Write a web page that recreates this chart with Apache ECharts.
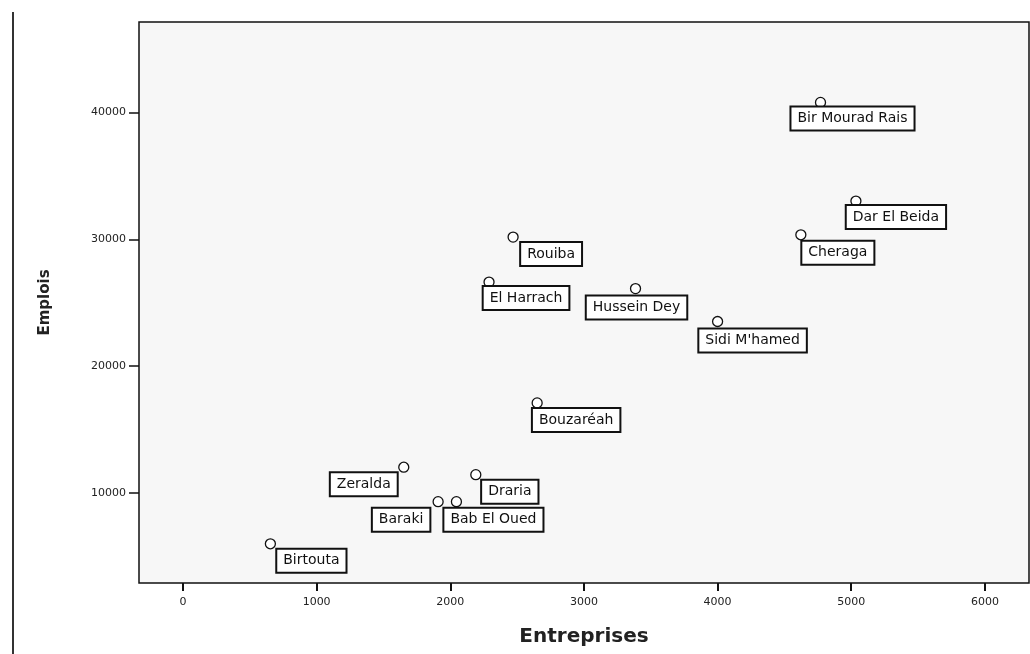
<!DOCTYPE html>
<html>
<head>
<meta charset="utf-8">
<script src="https://cdn.jsdelivr.net/npm/echarts@6/dist/echarts.min.js"></script>
<style>
  html, body { margin: 0; padding: 0; background: #fff; }
  #chart { width: 1030px; height: 654px; }
</style>
</head>
<body>
<div id="chart"></div>
<script>
// communes d'Alger : nombre d'entreprises et d'emplois
var communes = ['Bir Mourad Rais', 'Dar El Beida', 'Cheraga', 'Rouiba', 'El Harrach',
  'Hussein Dey', "Sidi M'hamed", 'Bouzaréah', 'Zeralda', 'Draria', 'Baraki',
  'Bab El Oued', 'Birtouta'];
var entreprises = [4770, 5035, 4623, 2470, 2290, 3386, 4000, 2650, 1652, 2191, 1909, 2046, 654];
var emplois = [40800, 33020, 30360, 30180, 26630, 26120, 23520, 17100, 12030, 11440, 9310, 9310, 5990];

var xTicks = [0, 1000, 2000, 3000, 4000, 5000, 6000];
var yTicks = [10000, 20000, 30000, 40000];

// decalage des etiquettes (centre de la boite par rapport au point)
var labelOffsets = [[32, 16], [40, 16], [37, 18], [38, 17], [37, 16], [1, 19], [35, 19],
  [39, 17], [-40, 17], [34, 17], [-37, 18], [37, 18], [41, 17]];

var points = [];
for (var i = 0; i < communes.length; i++) {
  points.push({
    name: communes[i],
    value: [entreprises[i], emplois[i]],
    label: { offset: labelOffsets[i] }
  });
}

var myChart = echarts.init(document.getElementById('chart'));
var option = {
  animation: false,
  backgroundColor: '#fff',
  grid: {
    left: 139, top: 22, right: 1, bottom: 71,
    show: true,
    backgroundColor: '#f7f7f7',
    borderColor: '#111',
    borderWidth: 1.5
  },
  xAxis: {
    type: 'value',
    min: -329,
    max: 6330,
    name: 'Entreprises',
    nameLocation: 'middle',
    nameGap: 44,
    nameTextStyle: { fontFamily: 'DejaVu Sans', fontWeight: 'bold', fontSize: 20, color: '#222' },
    axisLine: { show: false, onZero: false },
    axisTick: { show: true, length: 8, customValues: xTicks, lineStyle: { color: '#111', width: 2 } },
    axisLabel: {
      customValues: xTicks, formatter: function (v) { return String(v); },
      fontFamily: 'DejaVu Sans', fontSize: 11, color: '#222', margin: 14
    },
    splitLine: { show: false }
  },
  yAxis: {
    type: 'value',
    min: 2897,
    max: 47143,
    name: 'Emplois',
    nameLocation: 'middle',
    nameGap: 86,
    nameTextStyle: { fontFamily: 'DejaVu Sans', fontWeight: 'bold', fontSize: 15, color: '#222' },
    axisLine: { show: false, onZero: false },
    axisTick: { show: true, length: 10, customValues: yTicks, lineStyle: { color: '#111', width: 1.5 } },
    axisLabel: {
      customValues: yTicks, formatter: function (v) { return String(v); },
      fontFamily: 'DejaVu Sans', fontSize: 11, color: '#222', margin: 13
    },
    splitLine: { show: false }
  },
  graphic: [{
    type: 'line',
    shape: { x1: 13, y1: 12, x2: 13, y2: 654 },
    style: { stroke: '#333', lineWidth: 2 }
  }],
  series: [{
    type: 'scatter',
    symbol: 'circle',
    symbolSize: 10,
    itemStyle: { color: '#fff', borderColor: '#111', borderWidth: 1.3, opacity: 1 },
    label: {
      show: true,
      position: 'inside',
      formatter: '{b}',
      fontFamily: 'DejaVu Sans',
      fontSize: 14,
      lineHeight: 16,
      color: '#111',
      opacity: 1,
      backgroundColor: '#ffffff',
      borderColor: '#111',
      borderWidth: 2,
      padding: [3, 6, 3, 6]
    },
    emphasis: { disabled: true },
    data: points
  }]
};
myChart.setOption(option);
</script>
</body>
</html>
